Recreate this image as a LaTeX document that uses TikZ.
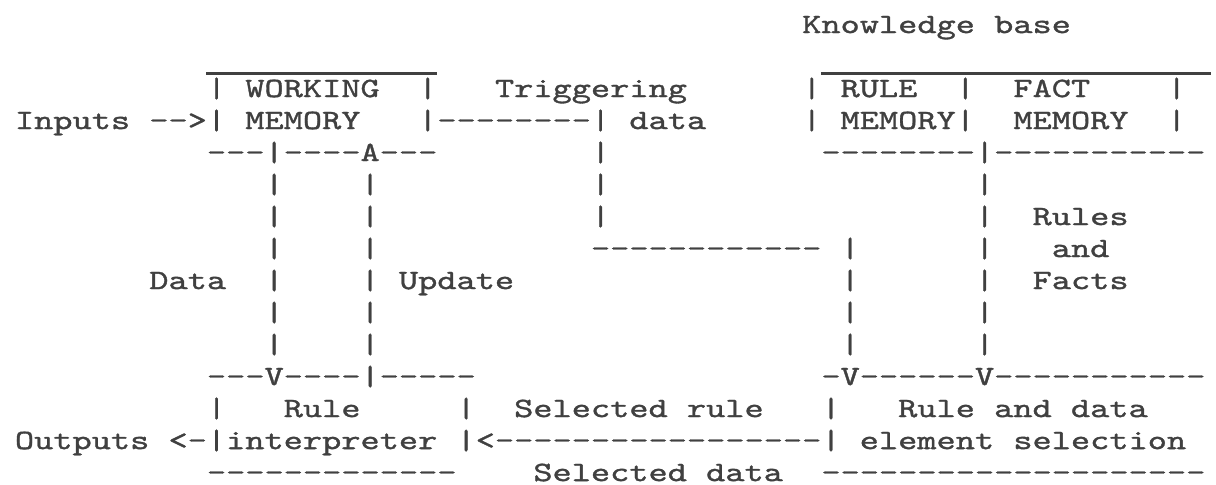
\documentclass[tikz,border=0pt]{standalone}
\usepackage{fontspec}
\setmonofont[FakeStretch=1.3061,FakeBold=1.2]{lmmono10-regular.otf}
\usepackage{xcolor}
\definecolor{encre}{HTML}{404040}
\usepackage{tikz}
\usetikzlibrary{positioning}

\begin{document}
\begin{tikzpicture}[x=7.2pt,y=-12pt,
  tt/.style={font=\ttfamily\fontsize{10.5pt}{12pt}\selectfont,text=encre,inner sep=0pt,anchor=base west},
  trait/.style={draw=encre,line width=0.9pt}
]
\path[use as bounding box,fill=white] (0,0) rectangle (63.33,15.125);
\begin{scope}[shift={(0.75,1.033)}]
% titre
\node[tt] (kb) at (41,0) {Knowledge base};
% bords superieurs
\coordinate (wmg) at (10,1.27); \coordinate (wmd) at (22,1.27);
\coordinate (kbg) at (42,1.27); \coordinate (kbd) at (62.3,1.27);
\draw[trait] (wmg)--(wmd); \draw[trait] (kbg)--(kbd);
% memoire de travail
\node[tt] (wm1) at (10,2) {| WORKING};
\node[tt] (wm2) at (21,2) {|};
\node[tt] (inputs) at (0,3) {Inputs -->| MEMORY};
\node[tt] (wmb) at (10,4) {---|----A---};
% declenchement
\node[tt] (trigt) at (25,2) {Triggering};
\node[tt] (trig) at (21,3) {|--------| data};
\node[tt] (tv4) at (30,4) {|};
\node[tt] (tr) at (30,7) {------------};
% base de connaissances
\node[tt] (rm1) at (41,2) {| RULE};
\node[tt] (rm2) at (49,2) {|};
\node[tt] (fm1) at (52,2) {FACT};
\node[tt] (fm2) at (60,2) {|};
\node[tt] (rm3) at (41,3) {| MEMORY|};
\node[tt] (fm3) at (52,3) {MEMORY};
\node[tt] (fm4) at (60,3) {|};
\node[tt] (kbb) at (42,4) {--------|-----------};
% liaisons verticales
\foreach \r in {5,...,10} {
  \node[tt] (dv\r) at (13,\r) {|};
  \node[tt] (uv\r) at (18,\r) {|};
  \node[tt] (kv\r) at (50,\r) {|};
}
\foreach \r in {5,6} \node[tt] (tv\r) at (30,\r) {|};
\foreach \r in {7,...,10} \node[tt] (sv\r) at (43,\r) {|};
% etiquettes
\node[tt] (data) at (7,8) {Data};
\node[tt] (upd) at (20,8) {Update};
\node[tt] (rules) at (53,6) {Rules};
\node[tt] (and) at (54,7) {and};
\node[tt] (facts) at (53,8) {Facts};
% interpreteur
\node[tt] (ri1) at (10,11) {---V----|-----};
\node[tt] (ri2) at (10,12) {|};
\node[tt] (ri3) at (14,12) {Rule};
\node[tt] (ri4) at (23,12) {|};
\node[tt] (outputs) at (0,13) {Outputs <-|interpreter |};
\node[tt] (ri5) at (10,14) {-------------};
% selection
\node[tt] (se1) at (42,11) {-V------V-----------};
\node[tt] (se2) at (42,12) {|};
\node[tt] (se3) at (46,12) {Rule and data};
\node[tt] (se4) at (42,13) {| element selection};
\node[tt] (se5) at (42,14) {--------------------};
% regle et donnees choisies
\node[tt] (selr) at (26,12) {Selected rule};
\node[tt] (fl) at (24,13) {<-----------------};
\node[tt] (seld) at (27,14) {Selected data};
\end{scope}
\end{tikzpicture}
\end{document}
